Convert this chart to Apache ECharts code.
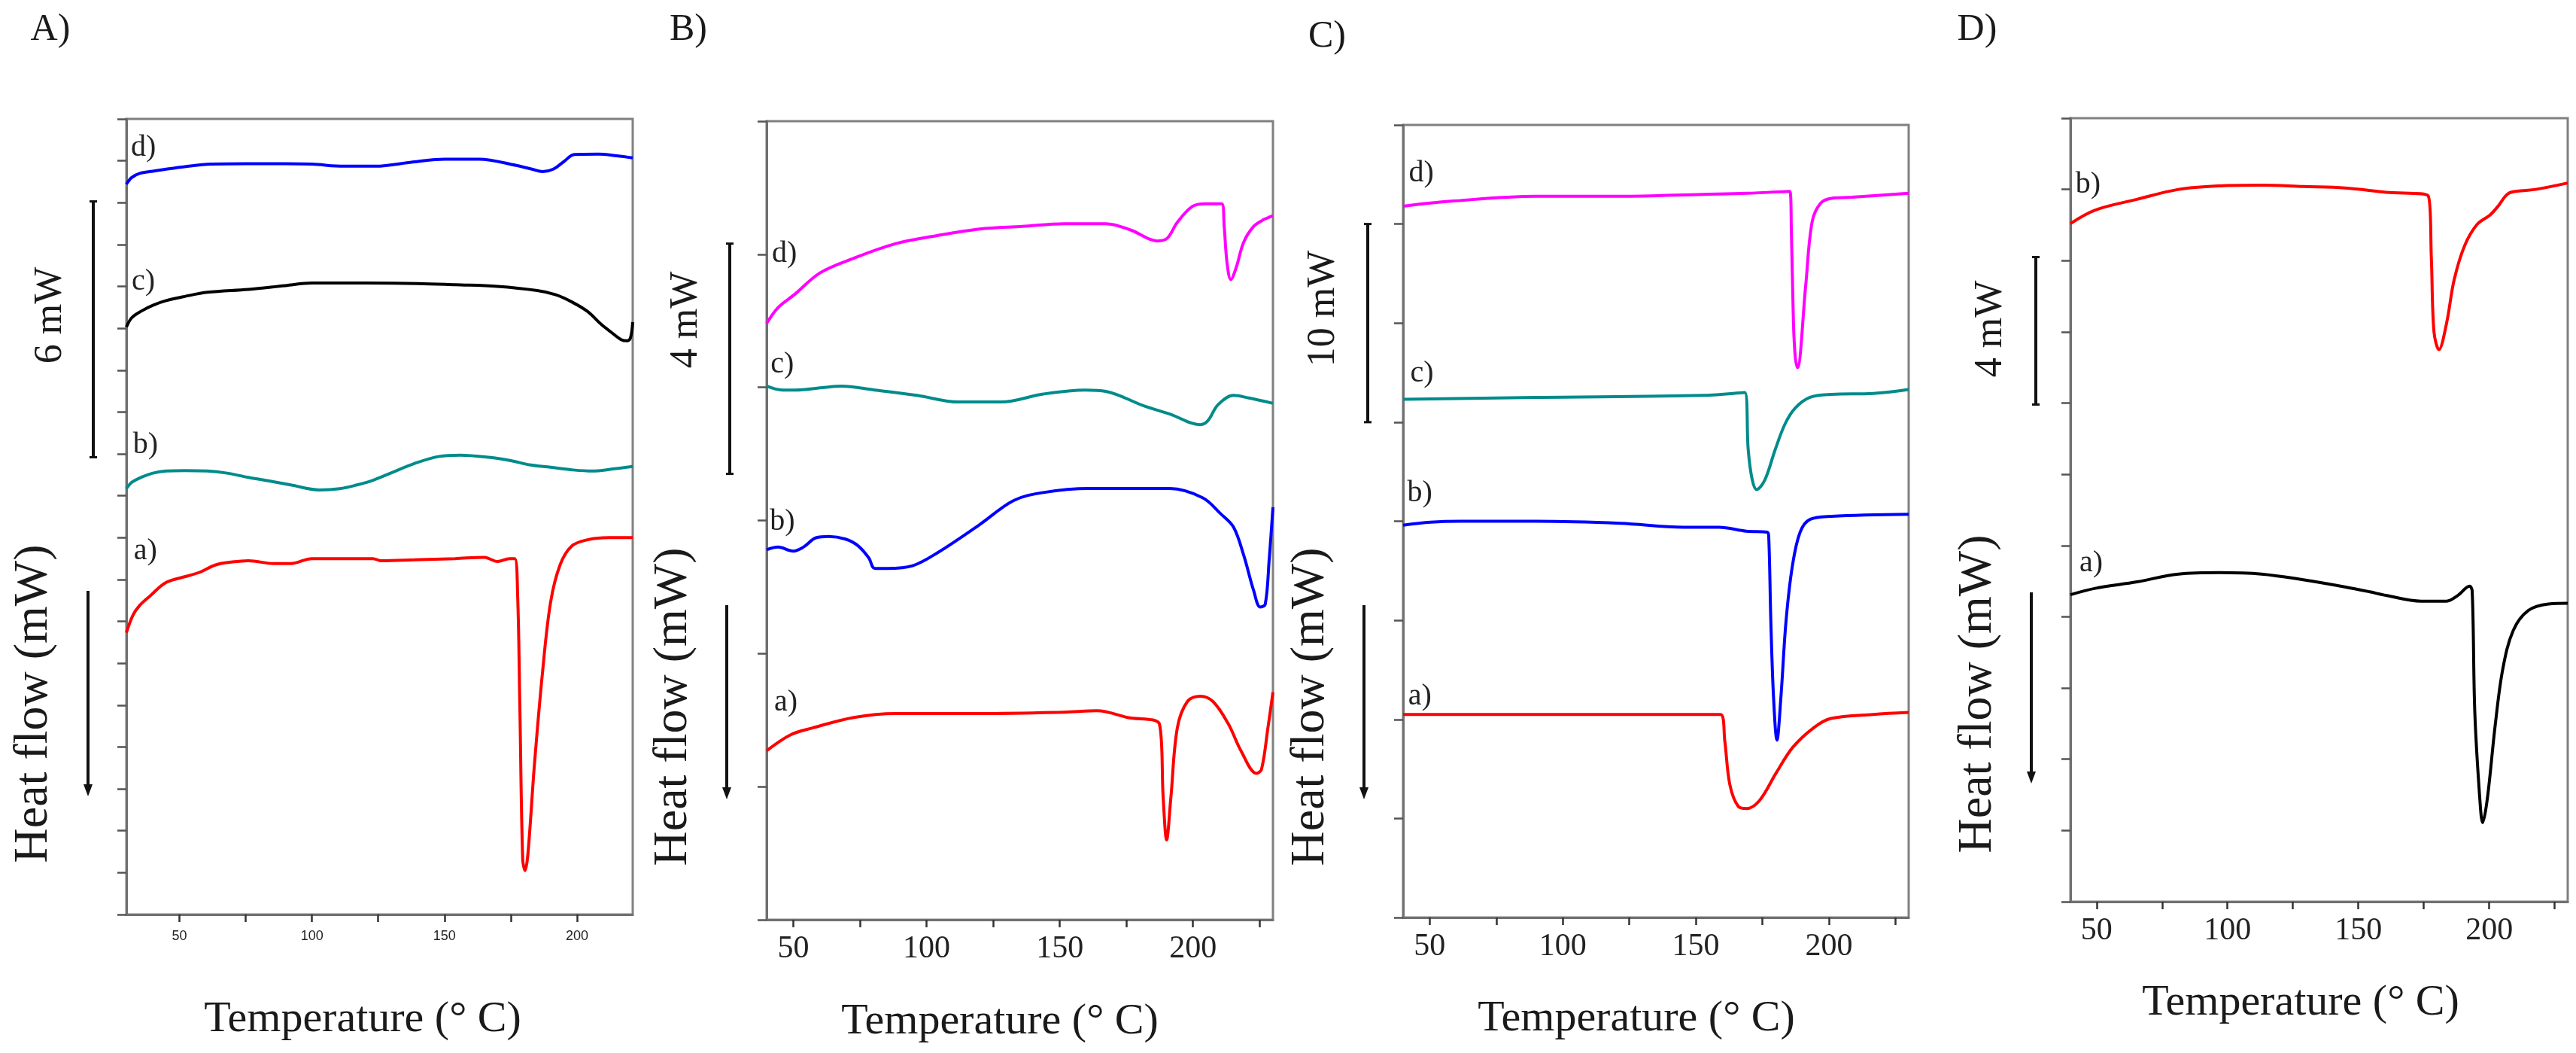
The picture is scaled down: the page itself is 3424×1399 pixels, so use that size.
<!DOCTYPE html>
<html>
<head>
<meta charset="utf-8">
<script src="https://cdn.jsdelivr.net/npm/echarts@6/dist/echarts.min.js"></script>
<style>
  html, body { margin: 0; padding: 0; background: #fff; }
  #chart { width: 3424px; height: 1399px; }
</style>
</head>
<body>
<div id="chart"></div>
<script>
// x values are temperatures (°C), y values are heat flow in each panel's tick units

// panel A
const A_T_d = [30, 32, 35, 40, 45, 52, 62, 75, 90, 100, 112, 124, 138, 150, 163, 177, 183, 187, 191, 195, 199, 208, 215, 221];
const A_HF_d = [17.44, 17.6, 17.7, 17.75, 17.8, 17.86, 17.92, 17.93, 17.93, 17.92, 17.87, 17.87, 17.97, 18.04, 18.04, 17.89, 17.8, 17.74, 17.8, 17.98, 18.15, 18.16, 18.12, 18.07];
const A_T_c = [30, 32, 35.6, 40, 45, 52, 60.6, 76, 90, 100, 120, 140, 154, 170, 185, 192, 198, 204, 209, 213, 216.6, 219, 220.2, 221];
const A_HF_c = [14.03, 14.25, 14.41, 14.55, 14.66, 14.76, 14.86, 14.93, 15.02, 15.08, 15.08, 15.07, 15.04, 15.0, 14.9, 14.8, 14.63, 14.4, 14.1, 13.9, 13.73, 13.7, 13.78, 14.15];
const A_T_b = [30, 32, 35.6, 40, 45, 52, 60.6, 68, 76, 85, 92, 102.7, 110.5, 117, 123, 130, 138.6, 148, 155.8, 166.7, 175, 182, 190, 198, 205.7, 213.5, 221];
const A_HF_b = [10.17, 10.32, 10.44, 10.54, 10.59, 10.6, 10.59, 10.54, 10.44, 10.34, 10.26, 10.14, 10.17, 10.26, 10.37, 10.55, 10.77, 10.94, 10.97, 10.92, 10.84, 10.74, 10.68, 10.62, 10.59, 10.64, 10.7];
const A_T_a = [30, 32.5, 35, 38.8, 45, 52.8, 57.5, 63.7, 70, 76, 85.6, 92, 100, 110, 123, 126, 138.6, 154, 165, 170, 174.5, 176.5, 177.6, 178.4, 179.5, 180.4, 181.5, 183.9, 187, 190, 193.6, 198, 204, 212, 221];
const A_HF_a = [6.73, 7.15, 7.38, 7.6, 7.93, 8.08, 8.17, 8.35, 8.42, 8.45, 8.38, 8.38, 8.5, 8.5, 8.5, 8.45, 8.47, 8.5, 8.53, 8.43, 8.5, 8.5, 7.6, 5.06, 1.32, 1.05, 1.47, 3.56, 5.8, 7.45, 8.35, 8.8, 8.95, 9.0, 9.0];

// panel B
const B_T_d = [40, 44.3, 50.6, 60, 72.7, 88.5, 104, 120, 136, 151.7, 167.3, 176.9, 186.5, 190.3, 194.1, 199.8, 204.6, 210.8, 211.7, 212.8, 214.2, 216.2, 219, 222.8, 226.5, 230];
const B_HF_d = [4.48, 4.6, 4.7, 4.86, 4.97, 5.08, 5.14, 5.19, 5.21, 5.23, 5.23, 5.18, 5.1, 5.12, 5.24, 5.36, 5.38, 5.38, 5.21, 4.93, 4.81, 4.9, 5.09, 5.21, 5.26, 5.29];
const B_T_c = [40, 45.9, 50.6, 61.7, 68, 80.6, 96.4, 112, 128, 143.8, 159.6, 167.3, 181.7, 191.3, 202.7, 205.6, 209.4, 215.2, 221, 230];
const B_HF_c = [4.01, 3.98, 3.98, 4.0, 4.01, 3.98, 3.94, 3.89, 3.89, 3.95, 3.98, 3.97, 3.86, 3.8, 3.72, 3.75, 3.87, 3.94, 3.92, 3.88];
const B_T_b = [40, 44.3, 50, 53.8, 58.5, 63.3, 69.6, 74.3, 78.3, 80.6, 85.4, 94.8, 104.3, 120, 132.7, 143.8, 161, 175.4, 191.3, 203.7, 210.4, 215.2, 219, 222.8, 225.2, 227.1, 228.6, 230];
const B_HF_b = [2.78, 2.8, 2.77, 2.8, 2.87, 2.88, 2.86, 2.81, 2.72, 2.64, 2.64, 2.66, 2.76, 2.97, 3.15, 3.21, 3.24, 3.24, 3.24, 3.17, 3.05, 2.95, 2.74, 2.47, 2.35, 2.37, 2.71, 3.1];
const B_T_a = [40, 49, 57, 72.7, 88.5, 120, 151.7, 164, 175.4, 187.4, 188.8, 190.1, 191.7, 194.1, 197.9, 202.7, 207.5, 213.3, 218, 223.8, 225.7, 228.1, 230];
const B_HF_a = [1.27, 1.39, 1.44, 1.52, 1.55, 1.55, 1.56, 1.57, 1.52, 1.47, 0.92, 0.6, 0.92, 1.44, 1.64, 1.68, 1.64, 1.47, 1.27, 1.1, 1.13, 1.44, 1.71];

// panel C
const C_T_d = [40, 58, 90, 121.6, 153, 169, 185.3, 185.9, 186.7, 187.4, 188.2, 191.3, 193.7, 196.9, 201, 208.7, 230];
const C_HF_d = [7.18, 7.23, 7.28, 7.28, 7.3, 7.31, 7.33, 6.95, 6.0, 5.65, 5.55, 6.38, 7.02, 7.21, 7.26, 7.27, 7.31];
const C_T_c = [40, 90, 153, 168.4, 169.7, 171.2, 172.9, 176, 179.8, 183.5, 187.3, 192.9, 201, 216.6, 230];
const C_HF_c = [5.23, 5.25, 5.27, 5.3, 4.72, 4.42, 4.32, 4.42, 4.72, 4.98, 5.14, 5.25, 5.28, 5.29, 5.33];
const C_T_b = [40, 50.3, 61.4, 90, 121.6, 145.4, 158.7, 169, 176.8, 177.4, 178.2, 179.2, 180.5, 182, 183.9, 186.3, 189.2, 193, 201, 230];
const C_HF_b = [3.96, 3.99, 4.0, 4.0, 3.98, 3.94, 3.94, 3.9, 3.89, 3.85, 2.99, 2.23, 1.79, 2.23, 2.99, 3.55, 3.89, 4.02, 4.05, 4.07];
const C_T_a = [40, 90, 159.3, 160.9, 162.8, 166, 169, 173.9, 180.2, 186.5, 194.5, 200.8, 216.6, 230];
const C_HF_a = [2.05, 2.05, 2.05, 1.78, 1.34, 1.12, 1.1, 1.18, 1.46, 1.72, 1.92, 2.01, 2.05, 2.07];

// panel D
const D_T_b = [40, 49.5, 65.4, 81.3, 97, 113, 128.9, 144.8, 160.6, 176.7, 177.9, 178.9, 180.8, 183.7, 186.6, 190.6, 195.4, 200.3, 203.3, 207.2, 212, 217.8, 230];
const D_HF_b = [9.52, 9.71, 9.86, 10.0, 10.05, 10.06, 10.04, 10.02, 9.96, 9.91, 9.03, 8.0, 7.75, 8.12, 8.73, 9.21, 9.51, 9.64, 9.76, 9.94, 9.98, 10.0, 10.09];
const D_T_a = [40, 49.5, 65.4, 81.3, 97, 113, 128.9, 144.8, 154.4, 160.6, 174, 183.7, 188, 192.5, 193.5, 194.5, 196.4, 197.5, 199.3, 202.3, 205.2, 209.2, 215, 222.6, 230];
const D_HF_a = [4.31, 4.4, 4.49, 4.6, 4.62, 4.6, 4.52, 4.42, 4.35, 4.3, 4.22, 4.22, 4.3, 4.43, 4.36, 2.66, 1.45, 1.11, 1.45, 2.48, 3.27, 3.81, 4.09, 4.18, 4.19];

// tick values
const tempTicks = [50, 75, 100, 125, 150, 175, 200, 225];
const tempLabels = [50, 100, 150, 200];
const panelTitles = ['A)', 'B)', 'C)', 'D)'];
const scaleTexts = ['6 mW', '4 mW', '10 mW', '4 mW'];
const scaleSpans = [[10.92, 17.03], [3.35, 5.08], [5.0, 7.0], [6.98, 9.05]];

const SERIF = '"Liberation Serif", "Times New Roman", serif';
const RED = '#ff0000', BLUE = '#0000ff', TEAL = '#008b8b', BLACK = '#000000', PINK = '#ff00ff';

const panels = [
    {
        grid: { left: 168, top: 158, width: 673, height: 1057 },
        xMin: 30, xMax: 221, yMax: 19,
        tickFont: { size: 18, family: '"Liberation Sans", Arial, sans-serif', margin: 20 },
        curves: [
            { id: 'd)', T: A_T_d, Y: A_HF_d, color: BLUE, at: [36.4, 18.3] },
            { id: 'c)', T: A_T_c, Y: A_HF_c, color: BLACK, at: [36.4, 15.1] },
            { id: 'b)', T: A_T_b, Y: A_HF_b, color: TEAL, at: [37.2, 11.2] },
            { id: 'a)', T: A_T_a, Y: A_HF_a, color: RED, at: [37.2, 8.68] }
        ],
        title: [67, 40], xName: [482, 1355], yName: [45, 935], scaleName: [67, 419],
        barX: 124, arrow: [117, 785, 1058]
    },
    {
        grid: { left: 1019, top: 161, width: 673, height: 1061 },
        xMin: 40, xMax: 230, yMax: 6,
        tickFont: { size: 42, family: SERIF, margin: 18 },
        curves: [
            { id: 'd)', T: B_T_d, Y: B_HF_d, color: PINK, at: [46.7, 5.0] },
            { id: 'c)', T: B_T_c, Y: B_HF_c, color: TEAL, at: [45.9, 4.17] },
            { id: 'b)', T: B_T_b, Y: B_HF_b, color: BLUE, at: [45.9, 2.99] },
            { id: 'a)', T: B_T_a, Y: B_HF_a, color: RED, at: [47.2, 1.63] }
        ],
        title: [915, 40], xName: [1329, 1358], yName: [895, 939], scaleName: [912, 425],
        barX: 970, arrow: [966, 804, 1062]
    },
    {
        grid: { left: 1865, top: 166, width: 672, height: 1053 },
        xMin: 40, xMax: 230, yMax: 8,
        tickFont: { size: 42, family: SERIF, margin: 18 },
        curves: [
            { id: 'd)', T: C_T_d, Y: C_HF_d, color: PINK, at: [46.8, 7.51] },
            { id: 'c)', T: C_T_c, Y: C_HF_c, color: TEAL, at: [47.1, 5.49] },
            { id: 'b)', T: C_T_b, Y: C_HF_b, color: BLUE, at: [46.3, 4.28] },
            { id: 'a)', T: C_T_a, Y: C_HF_a, color: RED, at: [46.3, 2.23] }
        ],
        title: [1764, 49], xName: [2175, 1354], yName: [1742, 939], scaleName: [1759, 410],
        barX: 1818, arrow: [1813, 804, 1062]
    },
    {
        grid: { left: 2752, top: 157, width: 661, height: 1041 },
        xMin: 40, xMax: 230, yMax: 11,
        tickFont: { size: 42, family: SERIF, margin: 18 },
        curves: [
            { id: 'b)', T: D_T_b, Y: D_HF_b, color: RED, at: [46.7, 10.06] },
            { id: 'a)', T: D_T_a, Y: D_HF_a, color: BLACK, at: [47.9, 4.75] }
        ],
        title: [2628, 40], xName: [3058, 1333], yName: [2629, 922], scaleName: [2646, 437],
        barX: 2706, arrow: [2700, 787, 1041]
    }
];

const makeXAxis = (p, i) => ({
    gridIndex: i,
    type: 'value',
    min: p.xMin,
    max: p.xMax,
    axisLine: { show: true, onZero: false, lineStyle: { color: '#707070', width: 3 } },
    axisTick: {
        show: true,
        length: 10,
        customValues: tempTicks.filter((v) => v <= p.xMax),
        lineStyle: { color: '#333', width: 2.5 }
    },
    axisLabel: {
        customValues: tempLabels,
        margin: p.tickFont.margin,
        fontSize: p.tickFont.size,
        fontFamily: p.tickFont.family,
        color: '#222'
    },
    splitLine: { show: false }
});

const makeYAxis = (p, i) => ({
    gridIndex: i,
    type: 'value',
    min: 0,
    max: p.yMax,
    interval: 1,
    axisLine: { show: true, onZero: false, lineStyle: { color: '#707070', width: 3 } },
    axisTick: { show: true, length: 12, lineStyle: { color: '#555', width: 2.5 } },
    axisLabel: { show: false },
    splitLine: { show: false }
});

const makeSeries = (p, i) => p.curves.map((c) => ({
    name: c.id,
    type: 'line',
    xAxisIndex: i,
    yAxisIndex: i,
    data: c.T.map((t, k) => [t, c.Y[k]]),
    showSymbol: false,
    symbol: 'none',
    smooth: 0.35,
    lineStyle: { color: c.color, width: 4 },
    itemStyle: { color: c.color },
    markPoint: {
        silent: true,
        symbol: 'circle',
        symbolSize: 1,
        itemStyle: { color: 'rgba(0,0,0,0)' },
        label: {
            show: true,
            position: 'inside',
            formatter: c.id,
            fontSize: 40,
            fontFamily: SERIF,
            color: '#222'
        },
        data: [{ coord: c.at }]
    }
}));

const chart = echarts.init(document.getElementById('chart'), null, { renderer: 'canvas' });

chart.setOption({
    animation: false,
    backgroundColor: '#fff',
    grid: panels.map((p) => ({
        ...p.grid,
        show: true,
        borderColor: '#808080',
        borderWidth: 3,
        backgroundColor: 'rgba(0,0,0,0)'
    })),
    xAxis: panels.map(makeXAxis),
    yAxis: panels.map(makeYAxis),
    series: panels.flatMap(makeSeries)
});

const textEl = (pos, text, size, rotated) => ({
    type: 'text',
    x: pos[0],
    y: pos[1],
    rotation: rotated ? Math.PI / 2 : 0,
    silent: true,
    style: {
        text: text,
        fontSize: size,
        fontFamily: SERIF,
        fill: '#1a1a1a',
        textAlign: 'center',
        textVerticalAlign: 'middle'
    }
});

const lineEl = (x1, y1, x2, y2, w) => ({
    type: 'line',
    silent: true,
    shape: { x1: x1, y1: y1, x2: x2, y2: y2 },
    style: { stroke: '#111', lineWidth: w }
});

const graphics = [];
panels.forEach((p, i) => {
    graphics.push(textEl(p.title, panelTitles[i], 50, false));
    graphics.push(textEl(p.xName, 'Temperature (° C)', 58, false));
    graphics.push(textEl(p.yName, 'Heat flow (mW)', 64, true));
    graphics.push(textEl(p.scaleName, scaleTexts[i], 52, true));

    // scale bar follows the panel's y scale
    const top = chart.convertToPixel({ gridIndex: i }, [p.xMin, scaleSpans[i][1]])[1];
    const bot = chart.convertToPixel({ gridIndex: i }, [p.xMin, scaleSpans[i][0]])[1];
    graphics.push(lineEl(p.barX, top, p.barX, bot, 4));
    graphics.push(lineEl(p.barX - 5, top, p.barX + 5, top, 3));
    graphics.push(lineEl(p.barX - 5, bot, p.barX + 5, bot, 3));

    // heat flow direction arrow
    const [ax, ay1, ay2] = p.arrow;
    graphics.push(lineEl(ax, ay1, ax, ay2 - 10, 4));
    graphics.push({
        type: 'polygon',
        silent: true,
        shape: { points: [[ax - 6, ay2 - 16], [ax + 6, ay2 - 16], [ax, ay2]] },
        style: { fill: '#111' }
    });
});

chart.setOption({ graphic: graphics });
</script>
</body>
</html>
